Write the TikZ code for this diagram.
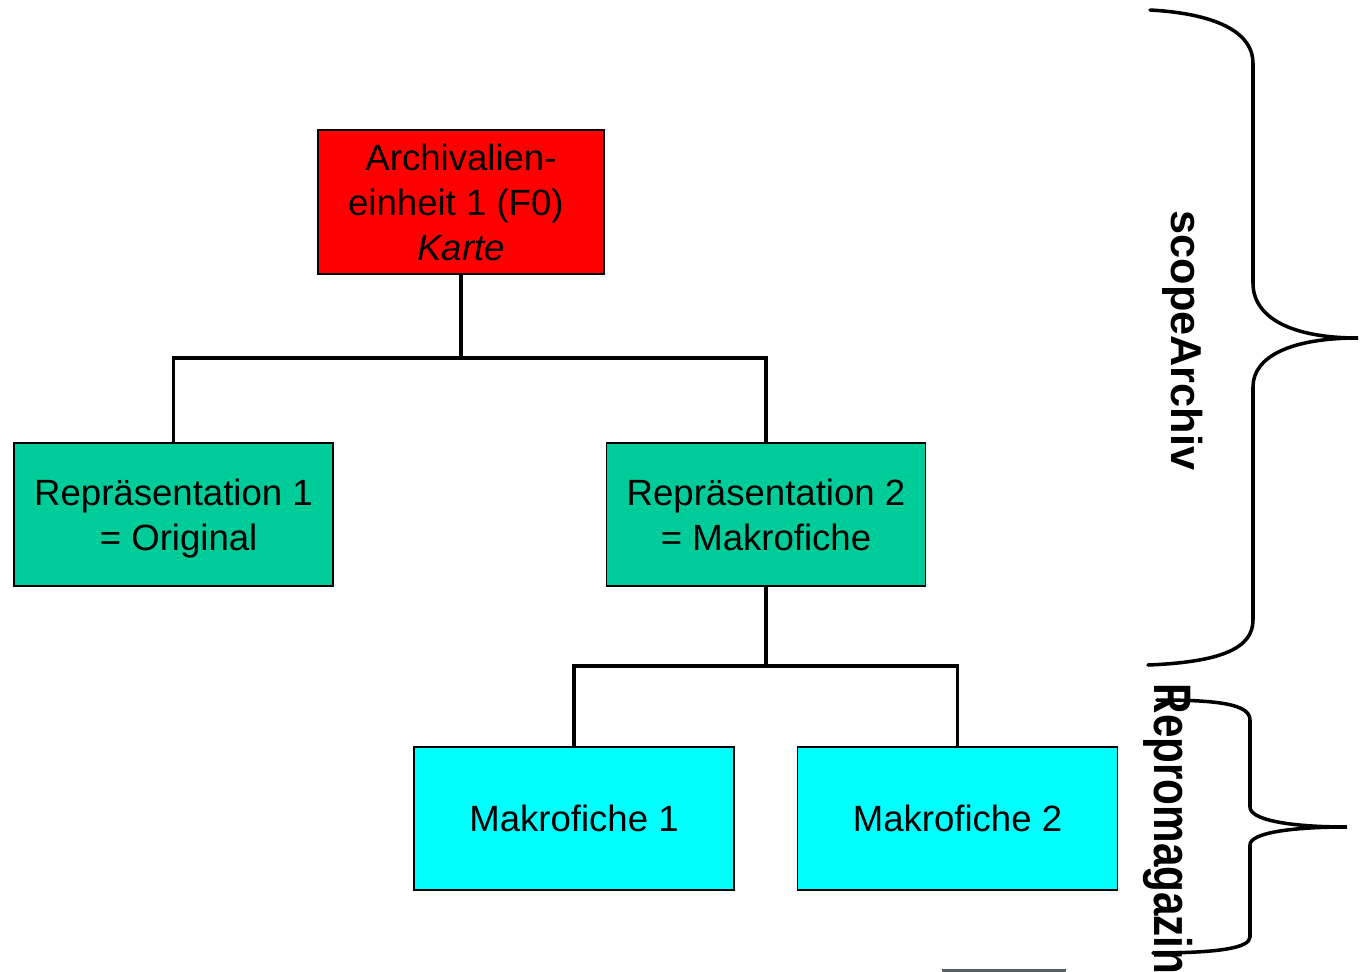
\documentclass[tikz,border=0pt]{standalone}
\usepackage{fontspec}
\setmainfont{Liberation Sans}
\definecolor{boxred}{HTML}{FF0000}
\definecolor{boxgreen}{HTML}{00CC99}
\definecolor{boxcyan}{HTML}{00FFFF}
\definecolor{bargray}{HTML}{555E63}
\newcommand{\nodepth}[1]{\raisebox{0pt}[\height][0pt]{#1}}
\begin{document}
\begin{tikzpicture}[x=0.01cm,y=-0.01cm,
  box/.style={draw=black,line width=0.45pt,inner sep=0pt,align=center,
    font=\fontsize{10.4}{12.8}\selectfont},
  conn/.style={line width=1.1pt,line cap=rect},
  brace/.style={line width=1pt,line cap=round},
  side/.style={rotate=-90,inner sep=0pt,anchor=base west}]
\useasboundingbox (0,0) rectangle (1365,972);
\node[box,fill=boxred,minimum width=2.86cm,minimum height=1.44cm] (red) at (461,202)
  {Archivalien-\\einheit 1 (F0)\rule{0.28em}{0pt}\\\textit{Karte}};
\node[box,fill=boxgreen,minimum width=3.19cm,minimum height=1.43cm] (g1) at (173.5,514.5)
  {Repräsentation 1\\\nodepth{\rule{0.28em}{0pt}= Original}};
\node[box,fill=boxgreen,minimum width=3.19cm,minimum height=1.43cm] (g2) at (766,514.5)
  {Repräsentation 2\\= Makrofiche};
\node[box,fill=boxcyan,minimum width=3.2cm,minimum height=1.43cm] (c1) at (574,818.5)
  {Makrofiche 1};
\node[box,fill=boxcyan,minimum width=3.2cm,minimum height=1.43cm] (c2) at (957.5,818.5)
  {Makrofiche 2};
\coordinate (j1) at (461,358);
\coordinate (j2) at (766,666);
\draw[conn] (red.south) -- (j1);
\draw[conn] (j1) -| (g1.north);
\draw[conn] (j1) -| (g2.north);
\draw[conn] (g2.south) -- (j2);
\draw[conn] (j2) -| (c1.north);
\draw[conn] (j2) -| (c2.north);
% braces
\draw[brace] (1150,10) .. controls (1222,14) and (1253,35) .. (1253,63)
  -- (1253,283) .. controls (1253,318) and (1292,338) .. (1358,338)
  .. controls (1292,338) and (1253,356) .. (1253,387)
  -- (1253,620) .. controls (1253,648) and (1222,662) .. (1148,665);
\draw[brace] (1157,700) .. controls (1218,700) and (1250,704) .. (1250,720)
  -- (1250,807) .. controls (1250,820) and (1290,827) .. (1347,827)
  .. controls (1290,827) and (1250,833) .. (1250,845)
  -- (1250,937) .. controls (1250,948) and (1218,953) .. (1153,953);
\node[side,font=\fontsize{12.3}{14}\selectfont\bfseries] (sa) at (1172,210) {scopeArchiv};
\node[side,yscale=1.25,font=\fontsize{12}{14}\selectfont\bfseries] (rm) at (1154,683) {Repromagazin};
\fill[bargray] (942,969) rectangle (1066,972);
\end{tikzpicture}
\end{document}
